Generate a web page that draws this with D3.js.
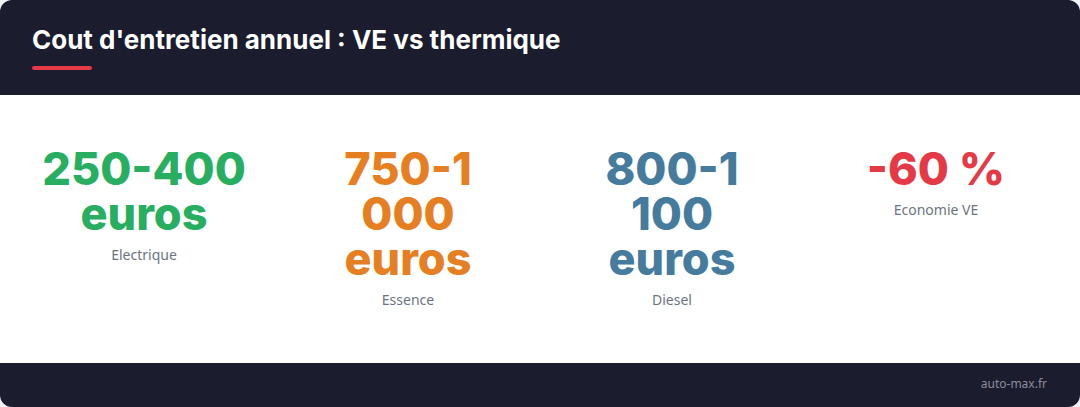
<!DOCTYPE html>
<html>
<head>
<meta charset="utf-8">
<script src="https://cdn.jsdelivr.net/npm/d3@7/dist/d3.min.js"></script>
<style>
  html, body { margin: 0; padding: 0; background: #f3f3f6; }
  svg { display: block; }
</style>
</head>
<body>
<svg id="chart" width="1080" height="407"></svg>
<script>
const title = "Cout d'entretien annuel : VE vs thermique";
const source = "auto-max.fr";
const categories = ["Electrique", "Essence", "Diesel", "Economie VE"];
const values = ["250-400 euros", "750-1 000 euros", "800-1 100 euros", "-60 %"];
const colors = ["#27ae60", "#e67e22", "#457b9d", "#e63946"];

const W = 1080, H = 407;
const headerH = 95, footerY = 363;
const svg = d3.select("#chart");

const defs = svg.append("defs");
defs.append("clipPath").attr("id", "card")
  .append("rect").attr("width", W).attr("height", H).attr("rx", 12).attr("ry", 12);

const g = svg.append("g").attr("clip-path", "url(#card)");
g.append("rect").attr("width", W).attr("height", H).attr("fill", "#ffffff");
g.append("rect").attr("width", W).attr("height", headerH).attr("fill", "#1b1c2e");
g.append("rect").attr("y", footerY).attr("width", W).attr("height", H - footerY).attr("fill", "#1b1c2e");

g.append("text").attr("x", 32).attr("y", 49)
  .attr("fill", "#ffffff")
  .style("font-family", "Inter, sans-serif").style("font-weight", 700).style("font-size", "26px")
  .text(title);
g.append("rect").attr("x", 32).attr("y", 66).attr("width", 60).attr("height", 4).attr("rx", 2)
  .attr("fill", "#e63946");

g.append("text").attr("x", 1047).attr("y", 388).attr("text-anchor", "end")
  .attr("fill", "#8b8d9e")
  .style("font-family", "'Noto Sans', sans-serif").style("font-size", "12px")
  .text(source);

const x = d3.scaleBand().domain(categories).range([12, W - 12]).padding(0);
const maxW = 210;
const firstBase = 185, lineStep = 45, labelGap = 30;

const cols = g.selectAll("g.stat").data(categories).join("g").attr("class", "stat")
  .attr("transform", d => `translate(${x(d) + x.bandwidth() / 2},0)`);

cols.each(function(d, i) {
  const col = d3.select(this);
  const t = col.append("text").attr("text-anchor", "middle").attr("fill", colors[i])
    .style("font-family", "Inter, sans-serif").style("font-weight", 800).style("font-size", "45px");
  const words = values[i].split(" ");
  const lines = [];
  let cur = "";
  const probe = t.append("tspan");
  words.forEach(w => {
    const test = cur ? cur + " " + w : w;
    probe.text(test);
    if (cur && probe.node().getComputedTextLength() > maxW) { lines.push(cur); cur = w; }
    else cur = test;
  });
  lines.push(cur);
  probe.remove();
  lines.forEach((l, k) => t.append("tspan").attr("x", 0).attr("y", firstBase + k * lineStep).text(l));
  col.append("text").attr("text-anchor", "middle")
    .attr("y", firstBase + (lines.length - 1) * lineStep + labelGap)
    .attr("fill", "#6c7480")
    .style("font-family", "'Noto Sans', sans-serif").style("font-size", "14px")
    .text(d);
});
</script>
</body>
</html>
